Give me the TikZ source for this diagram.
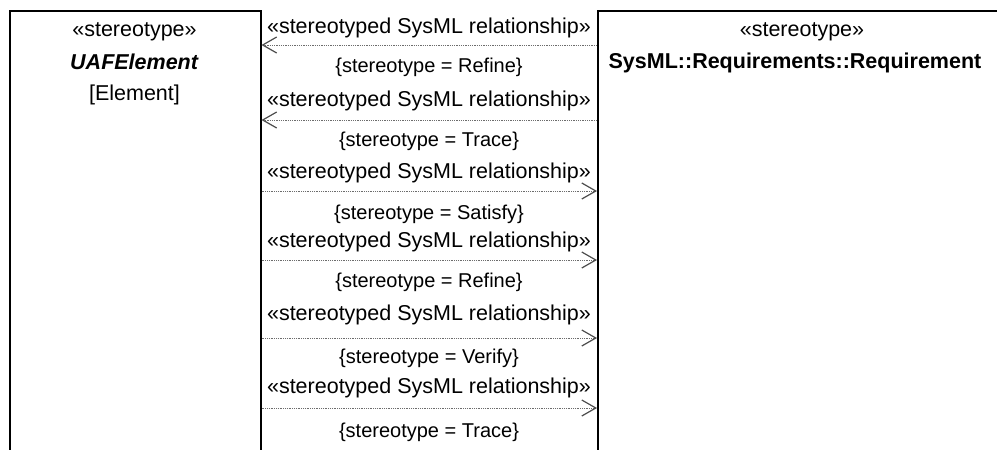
\documentclass[tikz,border=0pt]{standalone}
\usepackage{fontspec}
\setmainfont{Liberation Sans}
\usetikzlibrary{arrows.meta}
\begin{document}
\begin{tikzpicture}[x=1pt,y=-1pt,
  box/.style={draw=black, line width=1.5pt, inner sep=0pt, anchor=north west},
  rel/.style={draw=gray!85!black, line width=1pt, dash pattern=on 1pt off 0.8pt,
    -{Straight Barb[length=14pt,width=16pt,line width=1.2pt,color=gray!60!black]}},
  big/.style={font=\fontsize{21.5}{24}\selectfont, inner sep=0pt, anchor=base},
  small/.style={font=\fontsize{20}{22}\selectfont, inner sep=0pt, anchor=base}]
\useasboundingbox (0,0) rectangle (997,450);
\clip (0,0) rectangle (997,450);
% classes
\node[box, minimum width=251pt, minimum height=470pt] (uaf) at (9,10) {};
\node[box, minimum width=410pt, minimum height=470pt] (req) at (597,10) {};
\node[big] (uafst) at (134.5,36) {«stereotype»};
\node[big] (uafname) at (134.5,69) {\textbf{\textit{UAFElement}}};
\node[big] (uafmeta) at (134.5,100) {[Element]};
\node[big] (reqst) at (802,36) {«stereotype»};
\node[big] (reqname) at (795,68) {\textbf{SysML::Requirements::Requirement}};
% relationships
\coordinate (y1) at (0,45);
\coordinate (y2) at (0,120);
\coordinate (y3) at (0,191);
\coordinate (y4) at (0,260);
\coordinate (y5) at (0,338);
\coordinate (y6) at (0,408);
\draw[rel] (req.west |- y1) -- (uaf.east |- y1);
\draw[rel] (req.west |- y2) -- (uaf.east |- y2);
\draw[rel] (uaf.east |- y3) -- (req.west |- y3);
\draw[rel] (uaf.east |- y4) -- (req.west |- y4);
\draw[rel] (uaf.east |- y5) -- (req.west |- y5);
\draw[rel] (uaf.east |- y6) -- (req.west |- y6);
% labels
\node[big] (a1) at (429,33) {«stereotyped SysML relationship»};
\node[small] (b1) at (429,72) {\{stereotype = Refine\}};
\node[big] (a2) at (429,106) {«stereotyped SysML relationship»};
\node[small] (b2) at (429,146) {\{stereotype = Trace\}};
\node[big] (a3) at (429,178) {«stereotyped SysML relationship»};
\node[small] (b3) at (429,219) {\{stereotype = Satisfy\}};
\node[big] (a4) at (429,247) {«stereotyped SysML relationship»};
\node[small] (b4) at (429,287) {\{stereotype = Refine\}};
\node[big] (a5) at (429,320) {«stereotyped SysML relationship»};
\node[small] (b5) at (429,363) {\{stereotype = Verify\}};
\node[big] (a6) at (429,393) {«stereotyped SysML relationship»};
\node[small] (b6) at (429,437) {\{stereotype = Trace\}};
\end{tikzpicture}
\end{document}
